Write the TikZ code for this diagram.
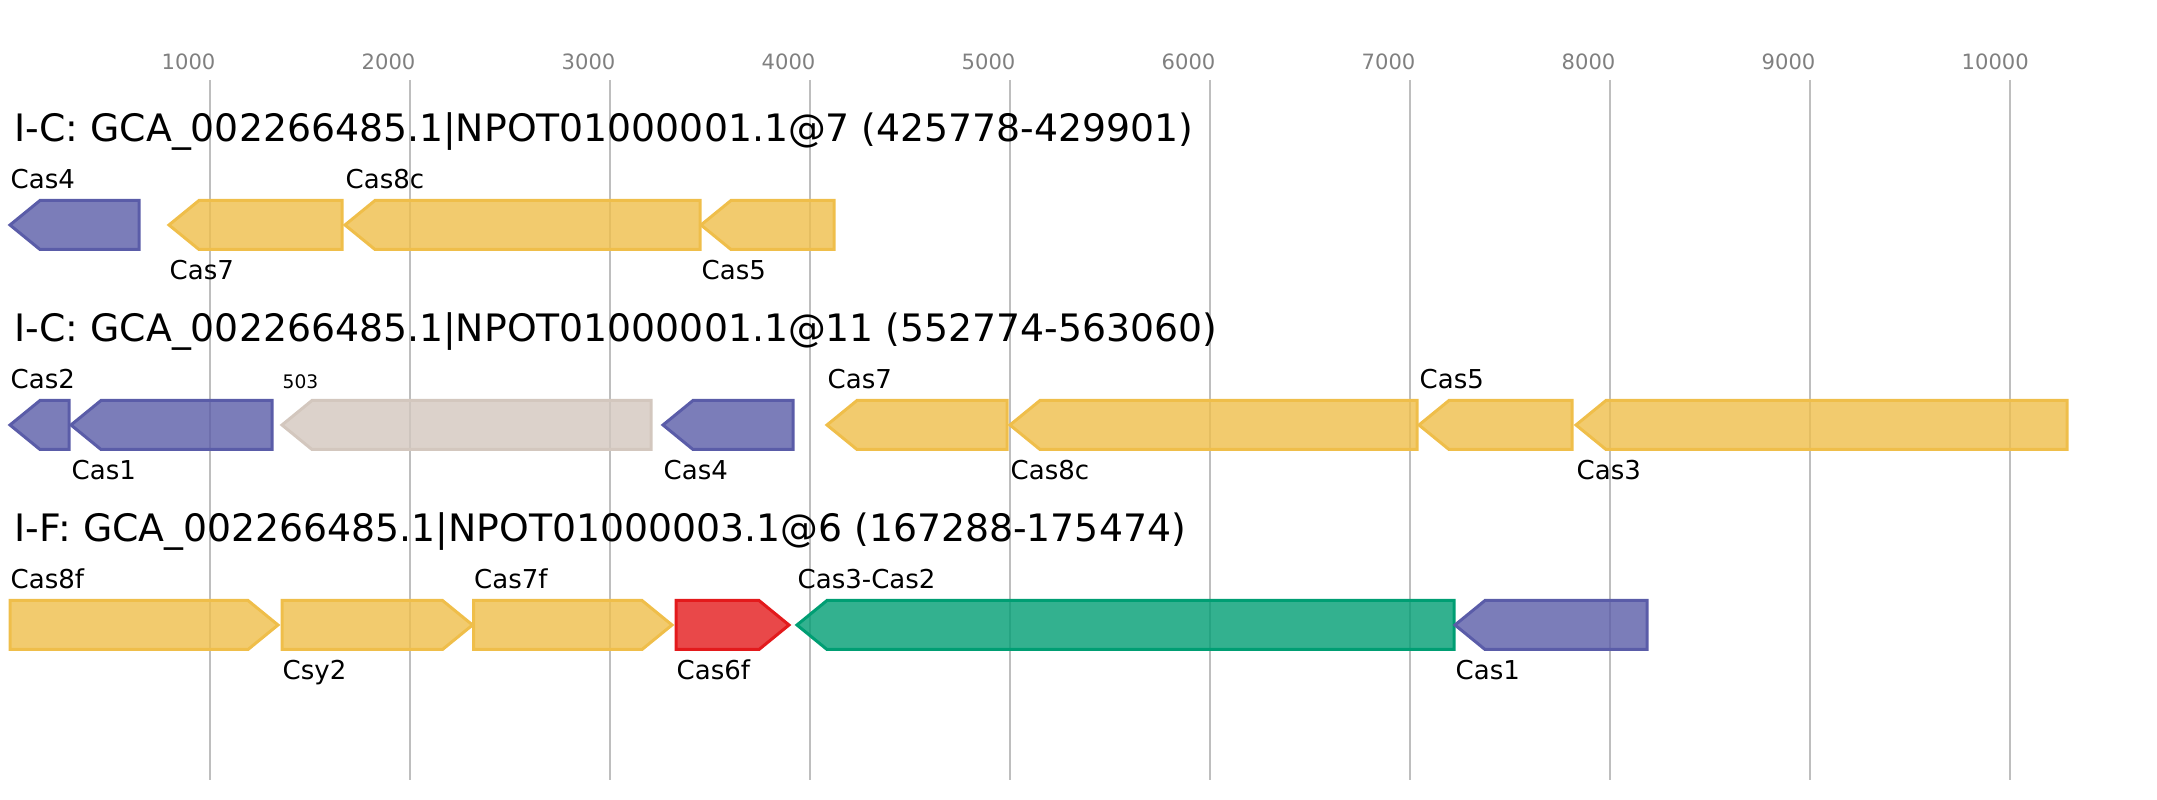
\documentclass[tikz,border=0pt]{standalone}
\usepackage{fontspec}
\setmainfont{DejaVu Sans}
\usepackage{tikz}
\usetikzlibrary{positioning}

\definecolor{casblue}{RGB}{90,92,168}
\definecolor{casyellow}{RGB}{239,190,74}
\definecolor{casgrey}{RGB}{211,199,190}
\definecolor{casgreen}{RGB}{0,158,115}
\definecolor{casred}{RGB}{227,26,28}
\definecolor{gridgrey}{RGB}{190,190,190}

\tikzset{
  gene/.style={draw=#1, fill=#1, fill opacity=0.8, line width=0.3mm, line join=miter},
  glabel/.style={anchor=base west, inner sep=0pt, font=\fontsize{7.4}{8}\selectfont},
  labup/.style={yshift=3.6mm},
  labdown/.style={yshift=-5.5mm},
  rowtitle/.style={anchor=base west, inner sep=0pt, font=\fontsize{10.75}{13}\selectfont},
  ticklab/.style={anchor=base west, inner sep=0pt, text=gray, font=\fontsize{6}{7}\selectfont},
  gridline/.style={draw=gridgrey, line width=0.2mm}
}

% gene pointing left: name, left, right, row centre, colour, label, label side
\newcommand{\RevGene}[7]{%
  \draw[gene=#5] (#2,#4) -- (#2+30,#4-24.5) -- (#3,#4-24.5) -- (#3,#4+24.5) -- (#2+30,#4+24.5) -- cycle;
  \node[glabel,#7] (#1) at (#2,#4) {#6};
}
% gene pointing right
\newcommand{\FwdGene}[7]{%
  \draw[gene=#5] (#2,#4-24.5) -- (#3-30,#4-24.5) -- (#3,#4) -- (#3-30,#4+24.5) -- (#2,#4+24.5) -- cycle;
  \node[glabel,#7] (#1) at (#2,#4) {#6};
}

\begin{document}
\begin{tikzpicture}[x=0.1mm, y=-0.1mm]
  \useasboundingbox (0,0) rectangle (2157,800);

  % scale
  \foreach \k in {1,...,10}{
    \draw[gridline] (10+200*\k,80) -- (10+200*\k,780);
    \node[ticklab] (tick\k) at (10+200*\k-49,70) {\k000};
  }

  % I-C @7
  \node[rowtitle] (rowA) at (14,142) {I-C: GCA\_002266485.1|NPOT01000001.1@7 (425778-429901)};
  \RevGene{A4}{10}{139}{225}{casblue}{Cas4}{labup}
  \RevGene{A7}{169}{342}{225}{casyellow}{Cas7}{labdown}
  \RevGene{A8}{345}{700}{225}{casyellow}{Cas8c}{labup}
  \RevGene{A5}{701}{834}{225}{casyellow}{Cas5}{labdown}

  % I-C @11
  \node[rowtitle] (rowB) at (14,342) {I-C: GCA\_002266485.1|NPOT01000001.1@11 (552774-563060)};
  \RevGene{B2}{10}{69}{425}{casblue}{Cas2}{labup}
  \RevGene{B1}{71}{272}{425}{casblue}{Cas1}{labdown}
  \RevGene{Bx}{282}{651}{425}{casgrey}{\fontsize{5.3}{6}\selectfont 503}{labup}
  \RevGene{B4}{663}{793}{425}{casblue}{Cas4}{labdown}
  \RevGene{B7}{827}{1007}{425}{casyellow}{Cas7}{labup}
  \RevGene{B8}{1010}{1417}{425}{casyellow}{Cas8c}{labdown}
  \RevGene{B5}{1419}{1572}{425}{casyellow}{Cas5}{labup}
  \RevGene{B3}{1576}{2067}{425}{casyellow}{Cas3}{labdown}

  % I-F @6
  \node[rowtitle] (rowC) at (14,542) {I-F: GCA\_002266485.1|NPOT01000003.1@6 (167288-175474)};
  \FwdGene{C8}{10}{278}{625}{casyellow}{Cas8f}{labup}
  \FwdGene{Cy}{282}{472.5}{625}{casyellow}{Csy2}{labdown}
  \FwdGene{C7}{473.5}{672}{625}{casyellow}{Cas7f}{labup}
  \FwdGene{C6}{676}{789}{625}{casred}{Cas6f}{labdown}
  \RevGene{C3}{797}{1454}{625}{casgreen}{Cas3-Cas2}{labup}
  \RevGene{C1}{1455}{1647}{625}{casblue}{Cas1}{labdown}
\end{tikzpicture}
\end{document}
